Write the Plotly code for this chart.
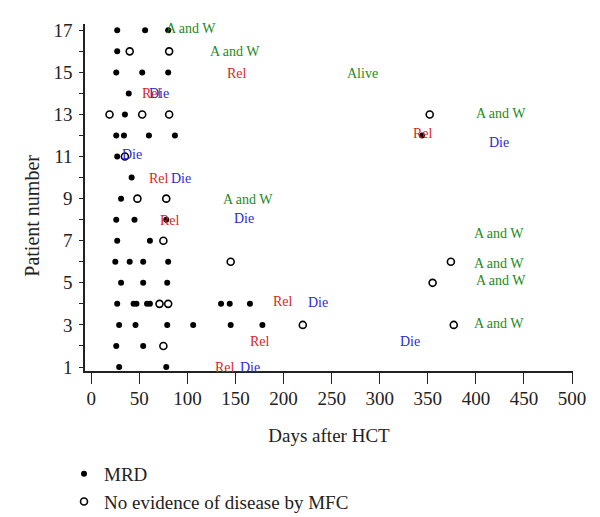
import plotly.graph_objects as go

# ---- data ----
mrd_patient = [17, 17, 17, 16, 15, 15, 15, 14, 13, 12, 12, 12, 12, 12, 11, 10, 9,
               8, 8, 8, 7, 7, 6, 6, 6, 6, 5, 5, 5,
               4, 4, 4, 4, 4, 4, 4, 4, 3, 3, 3, 3, 3, 3, 2, 2, 1, 1]
mrd_day = [27, 56, 80, 27, 26, 53, 80, 39, 35, 26, 34, 60, 87, 344, 27, 42, 31,
           26, 45, 78, 27, 61, 25, 40, 54, 80, 31, 54, 79,
           27, 44, 47, 58, 61, 135, 144, 165, 29, 46, 79, 106, 145, 178, 26, 54, 29, 78]

ned_patient = [16, 16, 13, 13, 13, 13, 11, 9, 9, 7, 6, 6, 5, 4, 4, 3, 3, 2]
ned_day = [40, 81, 19, 53, 81, 352, 35, 48, 78, 75, 145, 374, 355, 71, 80, 220, 377, 75]

label_text = ["A and W", "A and W", "Rel", "Alive", "Rel", "Die", "A and W", "Rel", "Die",
              "Die", "Rel", "Die", "A and W", "Die", "Rel", "A and W", "A and W", "A and W",
              "Rel", "Die", "A and W", "Rel", "Die", "Rel", "Die"]
label_day = [104, 149, 152, 282, 63, 70, 426, 345, 424,
             42, 70, 93, 163, 159, 82, 424, 424, 426,
             199, 236, 424, 176, 332, 139, 165]
label_patient = [17.08, 16.0, 14.95, 14.96, 14.0, 14.0, 13.03, 12.1, 11.68,
                 11.1, 9.96, 9.96, 8.98, 8.06, 7.98, 7.35, 5.94, 5.13,
                 4.13, 4.05, 3.09, 2.2, 2.2, 1.0, 1.0]
label_colors = {"A and W": "#228B22", "Alive": "#228B22", "Rel": "#d91f26", "Die": "#2b2bd6"}

x_ticks = list(range(0, 501, 50))
y_ticks = list(range(1, 18))
y_ticktext = [str(v) if v % 2 == 1 else "" for v in y_ticks]

FONT = "Liberation Serif"

fig = go.Figure()
fig.add_trace(go.Scatter(
    x=mrd_day, y=mrd_patient, mode="markers", name="MRD",
    marker=dict(symbol="circle", size=6, color="black"),
))
fig.add_trace(go.Scatter(
    x=ned_day, y=ned_patient, mode="markers", name="No evidence of disease by MFC",
    marker=dict(symbol="circle-open", size=7, color="black", line=dict(width=1.6, color="black")),
))

for t, d, p in zip(label_text, label_day, label_patient):
    fig.add_annotation(x=d, y=p, text=t, showarrow=False,
                       font=dict(family=FONT, size=14, color=label_colors[t]),
                       xanchor="center", yanchor="middle")

# y-axis title (placed as rotated text, slightly below the plot centre as in the reference)
fig.add_annotation(x=-0.109, y=0.447, xref="paper", yref="paper", text="Patient number",
                   textangle=-90, showarrow=False, xanchor="center", yanchor="middle",
                   font=dict(family=FONT, size=20, color="#222"))

# the page body adds an 8px offset, so the figure is 8px smaller than the window
fig.update_layout(
    width=592, height=509,
    margin=dict(l=77, r=27, t=16, b=146, autoexpand=False),
    plot_bgcolor="white", paper_bgcolor="white",
    font=dict(family=FONT, size=19, color="#222"),
    showlegend=True,
    legend=dict(x=-0.043, y=-0.242, xanchor="left", yanchor="top",
                font=dict(family=FONT, size=19, color="#222"),
                bgcolor="rgba(0,0,0,0)", tracegroupgap=4),
    xaxis=dict(range=[-6.5, 501], tickvals=x_ticks, ticks="outside", ticklen=11,
               tickwidth=1.3, tickcolor="#222", showline=True, linecolor="#222", linewidth=1.5,
               showgrid=False, zeroline=False, automargin=False, ticklabelstandoff=-2,
               title=dict(text="Days after HCT", font=dict(family=FONT, size=19), standoff=21),
               tickfont=dict(family=FONT, size=19)),
    yaxis=dict(range=[0.81, 17.3], tickvals=y_ticks, ticktext=y_ticktext, ticks="outside",
               ticklen=4, tickwidth=1.3, tickcolor="#222", showline=True, linecolor="#222",
               linewidth=1.5, showgrid=False, zeroline=False, automargin=False,
               ticklabelstandoff=3,
               tickfont=dict(family=FONT, size=19)),
)

fig.write_html("out.html")
